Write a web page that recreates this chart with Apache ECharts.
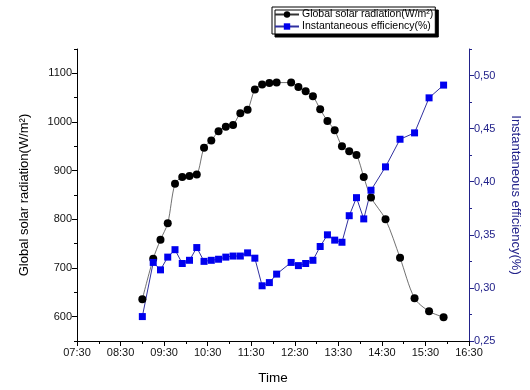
<!DOCTYPE html>
<html>
<head>
<meta charset="utf-8">
<script src="https://cdn.jsdelivr.net/npm/echarts@6/dist/echarts.min.js"></script>
<style>
  html, body { margin: 0; padding: 0; background: #fff; }
  #chart { width: 530px; height: 390px; }
</style>
</head>
<body>
<div id="chart"></div>
<script>
// measurement times
const times = [
  '09:00', '09:15', '09:25', '09:35', '09:45', '09:55', '10:05', '10:15', '10:25',
  '10:35', '10:45', '10:55', '11:05', '11:15', '11:25', '11:35', '11:45', '11:55',
  '12:05', '12:25', '12:35', '12:45', '12:55', '13:05', '13:15', '13:25', '13:35',
  '13:45', '13:55', '14:05', '14:15', '14:35', '14:55', '15:15', '15:35', '15:55'
]

// global solar radiation (W/m²)
const radiation = [
  636, 719, 758, 792, 873, 887, 889, 892, 947,
  962, 981, 990, 994, 1018, 1025, 1067, 1077, 1080,
  1081, 1081, 1072, 1063, 1053, 1026, 1002, 983, 950,
  940, 932, 887, 845, 800, 721, 638, 611, 599
]

// instantaneous efficiency
const efficiency = [
  0.273, 0.324, 0.317, 0.329, 0.336, 0.323, 0.326, 0.338, 0.325,
  0.326, 0.327, 0.329, 0.330, 0.330, 0.333, 0.328, 0.302, 0.305,
  0.313, 0.324, 0.321, 0.323, 0.326, 0.339, 0.350, 0.345, 0.343,
  0.368, 0.385, 0.365, 0.392, 0.414, 0.440, 0.446, 0.479, 0.491
]

const timeTicks = ['07:30', '08:30', '09:30', '10:30', '11:30', '12:30', '13:30', '14:30', '15:30', '16:30']
const radiationTicks = [600, 700, 800, 900, 1000, 1100]
const efficiencyTicks = [0.25, 0.30, 0.35, 0.40, 0.45, 0.50]

const START = 7 * 60 + 30
const FONT = 'Liberation Sans'
const NAVY = '#22228a'

function toMin(t) {
  const [h, m] = t.split(':').map(Number)
  return h * 60 + m - START
}

function toTime(v) {
  const m = v + START
  const h = Math.floor(m / 60)
  const mm = m % 60
  return String(h).padStart(2, '0') + ':' + String(mm).padStart(2, '0')
}

const chart = echarts.init(document.getElementById('chart'))

const labelStyle = { fontFamily: FONT, fontSize: 11, color: '#111' }

const option = {
  animation: false,
  legend: {
    left: 272,
    top: 7,
    orient: 'vertical',
    padding: [2, 2],
    itemGap: 1,
    itemWidth: 24,
    itemHeight: 8,
    backgroundColor: '#fff',
    borderColor: '#000',
    borderWidth: 1,
    borderRadius: 0,
    shadowColor: '#000',
    shadowBlur: 0,
    shadowOffsetX: 3,
    shadowOffsetY: 3,
    textStyle: { fontFamily: FONT, fontSize: 10.5, color: '#000', padding: [0, 0, 0, -2] }
  },
  grid: { left: 77, right: 58, top: 49, bottom: 48 },
  xAxis: [
    {
      type: 'value',
      min: 0,
      max: 540,
      name: 'Time',
      nameLocation: 'middle',
      nameGap: 30,
      nameTextStyle: { fontFamily: FONT, fontSize: 13.5, color: '#000' },
      axisLine: { onZero: false, lineStyle: { color: '#000', width: 1 } },
      axisTick: { length: 5, lineStyle: { color: '#000' }, customValues: timeTicks.map(toMin) },
      axisLabel: { ...labelStyle, margin: 6, customValues: timeTicks.map(toMin), formatter: toTime },
      splitLine: { show: false }
    },
    {
      // minor ticks every 30 min
      type: 'value',
      min: 0,
      max: 540,
      interval: 30,
      position: 'bottom',
      axisLine: { show: false, onZero: false },
      axisTick: { length: 3, lineStyle: { color: '#000' } },
      axisLabel: { show: false },
      splitLine: { show: false }
    }
  ],
  yAxis: [
    {
      type: 'value',
      position: 'left',
      min: 550,
      max: 1150,
      name: 'Global solar radiation(W/m²)',
      nameLocation: 'middle',
      nameRotate: 90,
      nameGap: 46,
      nameTextStyle: { fontFamily: FONT, fontSize: 13, color: '#000' },
      axisLine: { show: true, onZero: false, lineStyle: { color: '#000', width: 1 } },
      axisTick: { show: true, length: 5, lineStyle: { color: '#000' }, customValues: radiationTicks },
      axisLabel: { ...labelStyle, margin: 5, customValues: radiationTicks, formatter: v => String(v) },
      splitLine: { show: false }
    },
    {
      type: 'value',
      position: 'right',
      min: 0.25,
      max: 0.525,
      name: 'Instantaneous efficiency(%)',
      nameLocation: 'middle',
      nameRotate: -90,
      nameGap: 40,
      nameTextStyle: { fontFamily: FONT, fontSize: 13, color: NAVY },
      axisLine: { show: true, onZero: false, lineStyle: { color: NAVY, width: 1 } },
      axisTick: { show: true, length: 5, lineStyle: { color: NAVY }, customValues: efficiencyTicks },
      axisLabel: {
        ...labelStyle,
        color: NAVY,
        margin: 5,
        customValues: efficiencyTicks,
        formatter: v => v.toFixed(2).replace('.', ',')
      },
      splitLine: { show: false }
    },
    {
      // minor ticks left
      type: 'value',
      position: 'left',
      min: 550,
      max: 1150,
      interval: 50,
      axisLine: { show: false, onZero: false },
      axisTick: { show: true, length: 3, lineStyle: { color: '#000' } },
      axisLabel: { show: false },
      splitLine: { show: false }
    },
    {
      // minor ticks right
      type: 'value',
      position: 'right',
      min: 0.25,
      max: 0.525,
      interval: 0.025,
      axisLine: { show: false, onZero: false },
      axisTick: { show: true, length: 3, lineStyle: { color: NAVY } },
      axisLabel: { show: false },
      splitLine: { show: false }
    }
  ],
  series: [
    {
      name: 'Global solar radiation(W/m²)',
      type: 'line',
      xAxisIndex: 0,
      yAxisIndex: 0,
      data: times.map((t, i) => [toMin(t), radiation[i]]),
      smooth: 0.3,
      symbol: 'circle',
      symbolSize: 8,
      itemStyle: { color: '#000' },
      lineStyle: { color: '#333', width: 0.7 }
    },
    {
      name: 'Instantaneous efficiency(%)',
      type: 'line',
      xAxisIndex: 0,
      yAxisIndex: 1,
      data: times.map((t, i) => [toMin(t), efficiency[i]]),
      symbol: 'rect',
      symbolSize: 7,
      itemStyle: { color: '#0000ee' },
      lineStyle: { color: '#3030a0', width: 1 }
    }
  ]
}

chart.setOption(option)
</script>
</body>
</html>
